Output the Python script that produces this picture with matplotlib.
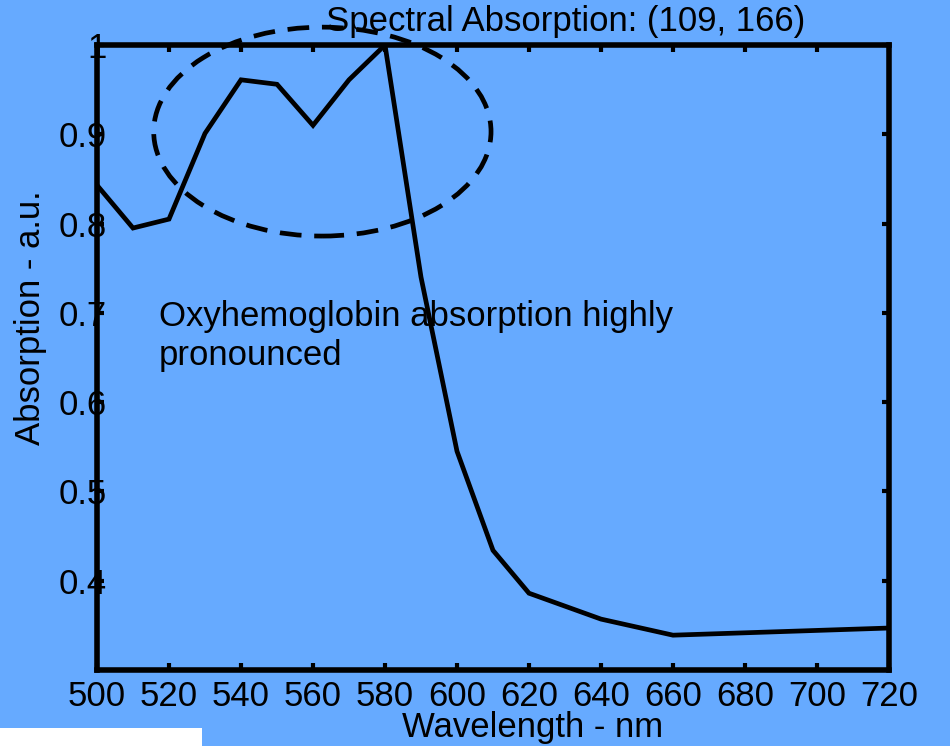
import matplotlib
matplotlib.use("Agg")
import matplotlib.pyplot as plt
from matplotlib.patches import Ellipse, Rectangle

plt.rcParams['font.family'] = ['Liberation Sans', 'DejaVu Sans']

wavelength = [500, 510, 520, 530, 540, 550, 560, 570, 580, 590, 600, 610, 620, 640, 660, 720]
absorption = [0.843, 0.795, 0.805, 0.901, 0.961, 0.956, 0.910, 0.961, 1.0, 0.740,
              0.545, 0.434, 0.386, 0.357, 0.339, 0.347]
x_ticks = [500, 520, 540, 560, 580, 600, 620, 640, 660, 680, 700, 720]
y_ticks = [0.4, 0.5, 0.6, 0.7, 0.8, 0.9, 1.0]
y_tick_labels = ['0.4', '0.5', '0.6', '0.7', '0.8', '0.9', '1']
title = "Spectral Absorption: (109, 166)"
annotation = "Oxyhemoglobin absorption highly\npronounced"

bg = '#66aaff'
fs = 25
fig = plt.figure(figsize=(9.5, 7.46), dpi=100, facecolor=bg)
ax = fig.add_axes([97/950, 1-670/746, (889-97)/950, (670-45)/746])
ax.set_facecolor(bg)

ax.plot(wavelength, absorption, color='black', lw=3.4, solid_joinstyle='miter', zorder=3)

ax.set_xlim(500, 720)
ax.set_ylim(0.3, 1.0)
ax.set_xticks(x_ticks)
ax.set_yticks(y_ticks)
ax.set_yticklabels(y_tick_labels)

for s in ax.spines.values():
    s.set_linewidth(4.0)
    s.set_zorder(5)
ax.tick_params(direction='in', length=5, width=3, top=True, right=True,
               labelsize=fs, colors='black')
ax.tick_params(axis='y', pad=-7)
ax.tick_params(axis='x', pad=7)
for lab in ax.get_yticklabels():
    lab.set_zorder(6)

ell = Ellipse((562.6, 0.903), 93.7, 0.234, fill=False, edgecolor='black', lw=3.4,
              linestyle=(0, (4.6, 2.7)), clip_on=False, zorder=4)
ax.add_patch(ell)

fig.text(159/950, 1-336/746, annotation, fontsize=fs, ha='left', va='center',
         linespacing=1.23, color='black')

fig.text(566/950, 1-22/746, title, fontsize=fs, ha='center', va='center', color='black')
fig.text(533/950, 1-727/746, "Wavelength - nm", fontsize=fs, ha='center', va='center', color='black')
fig.text(31/950, 1-318/746, "Absorption - a.u.", fontsize=fs, ha='center', va='center',
         rotation=90, color='black')

fig.patches.append(Rectangle((0, 0), 202/950, 18/746, transform=fig.transFigure,
                             facecolor='white', edgecolor='none', figure=fig))

fig.savefig('out.png', dpi=100, facecolor=bg)
